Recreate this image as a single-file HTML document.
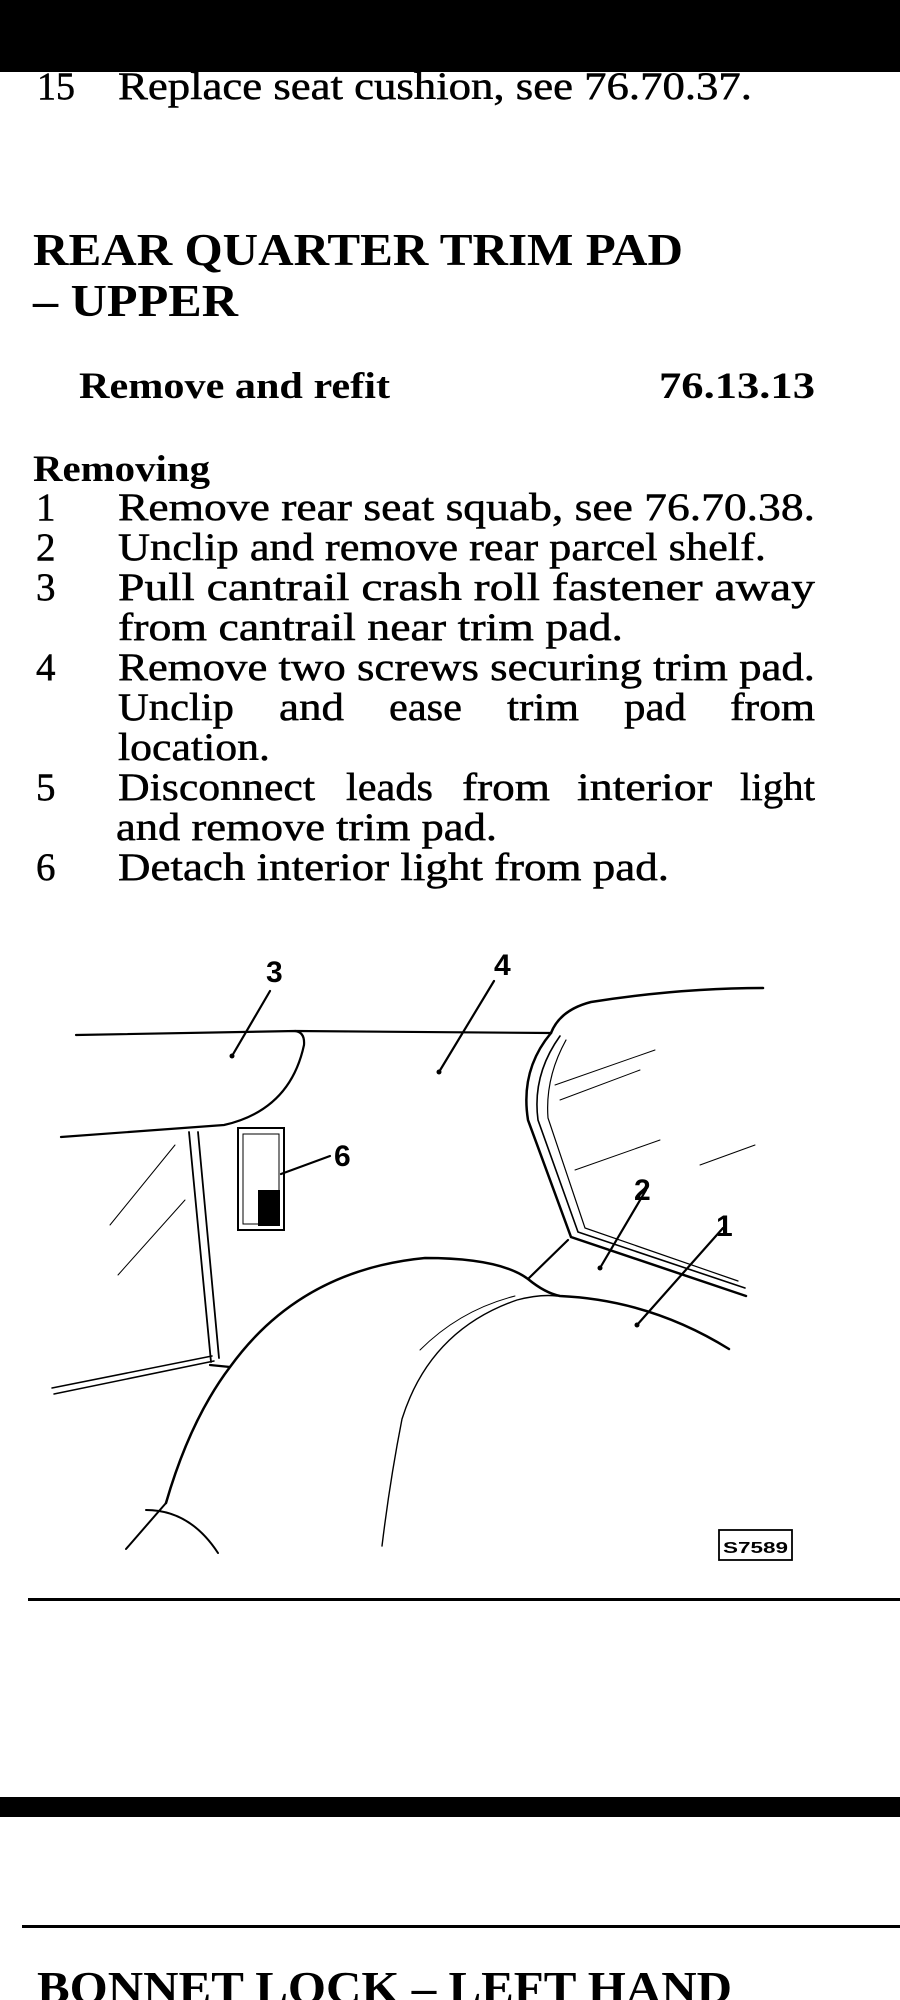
<!DOCTYPE html>
<html><head><meta charset="utf-8"><style>
html,body{margin:0;padding:0;background:#fff;}
svg{display:block;}
text{font-family:"Liberation Serif",serif;fill:#000;}
.b{font-weight:bold;}
.t text{stroke:#000;stroke-width:0.5;}
</style></head><body>
<svg width="900" height="2000" viewBox="0 0 900 2000" xmlns="http://www.w3.org/2000/svg">
<rect x="0" y="0" width="900" height="72" fill="#000"/>
<g font-size="39" class="t">
<text x="37" y="99" textLength="38" lengthAdjust="spacingAndGlyphs">15</text>
<text x="118" y="99" textLength="634" lengthAdjust="spacingAndGlyphs">Replace seat cushion, see 76.70.37.</text>
</g>
<text class="b" x="33" y="265" font-size="46" textLength="650" lengthAdjust="spacingAndGlyphs">REAR QUARTER TRIM PAD</text>
<text class="b" x="33" y="316" font-size="46" textLength="205" lengthAdjust="spacingAndGlyphs">– UPPER</text>
<text class="b" x="79" y="398" font-size="37" textLength="311" lengthAdjust="spacingAndGlyphs">Remove and refit</text>
<text class="b" x="659" y="398" font-size="37" textLength="156" lengthAdjust="spacingAndGlyphs">76.13.13</text>
<text class="b" x="33" y="481" font-size="37" textLength="177" lengthAdjust="spacingAndGlyphs">Removing</text>
<g font-size="39" class="t">
<text x="36" y="520">1</text>
<text x="118" y="520" textLength="697" lengthAdjust="spacingAndGlyphs">Remove rear seat squab, see 76.70.38.</text>
<text x="36" y="560">2</text>
<text x="118" y="560" textLength="648" lengthAdjust="spacingAndGlyphs">Unclip and remove rear parcel shelf.</text>
<text x="36" y="600">3</text>
<text x="118" y="600" textLength="697" lengthAdjust="spacingAndGlyphs">Pull cantrail crash roll fastener away</text>
<text x="118" y="640" textLength="505" lengthAdjust="spacingAndGlyphs">from cantrail near trim pad.</text>
<text x="36" y="680">4</text>
<text x="118" y="680" textLength="697" lengthAdjust="spacingAndGlyphs">Remove two screws securing trim pad.</text>
<text x="118" y="720" textLength="116" lengthAdjust="spacingAndGlyphs">Unclip</text>
<text x="279" y="720" textLength="65" lengthAdjust="spacingAndGlyphs">and</text>
<text x="389" y="720" textLength="73" lengthAdjust="spacingAndGlyphs">ease</text>
<text x="507" y="720" textLength="72" lengthAdjust="spacingAndGlyphs">trim</text>
<text x="624" y="720" textLength="62" lengthAdjust="spacingAndGlyphs">pad</text>
<text x="730" y="720" textLength="85" lengthAdjust="spacingAndGlyphs">from</text>
<text x="118" y="760" textLength="152" lengthAdjust="spacingAndGlyphs">location.</text>
<text x="36" y="800">5</text>
<text x="118" y="800" textLength="197" lengthAdjust="spacingAndGlyphs">Disconnect</text>
<text x="346" y="800" textLength="87" lengthAdjust="spacingAndGlyphs">leads</text>
<text x="462" y="800" textLength="88" lengthAdjust="spacingAndGlyphs">from</text>
<text x="577" y="800" textLength="135" lengthAdjust="spacingAndGlyphs">interior</text>
<text x="740" y="800" textLength="75" lengthAdjust="spacingAndGlyphs">light</text>
<text x="116" y="840" textLength="381" lengthAdjust="spacingAndGlyphs">and remove trim pad.</text>
<text x="36" y="880">6</text>
<text x="118" y="880" textLength="551" lengthAdjust="spacingAndGlyphs">Detach interior light from pad.</text>
</g>
<g fill="none" stroke="#000" stroke-width="2.2" stroke-linecap="round">
<path d="M76 1035 L295 1031 Q305 1032 304 1045 Q290 1110 224 1125 L61 1137"/>
<path d="M295 1031 L551 1033"/>
<path d="M189 1132 L211 1362 M198 1132 L219 1358" stroke-width="1.8"/>
<path d="M52 1388 L212 1356 M54 1394 L214 1361" stroke-width="1.5"/>
<path d="M110 1225 L175 1145 M118 1275 L185 1200" stroke-width="1" />
<rect x="238" y="1128" width="46" height="102" stroke-width="2"/>
<rect x="243" y="1134" width="36" height="90" stroke-width="1"/>
<path d="M281 1174 L330 1156"/>
<path d="M270 991 L232 1056 M494 981 L439 1072 M646 1190 L600 1268 M723 1228 L637 1325"/>
<path d="M551 1033 Q560 1010 591 1002 Q680 988 763 988" stroke-width="2.5"/>
<path d="M551 1033 Q520 1070 528 1120 L571 1237 L746 1296" stroke-width="2.5"/>
<path d="M560 1036 Q532 1075 538 1120 L578 1232 L745 1288" stroke-width="1.6"/>
<path d="M566 1040 Q545 1078 548 1118 L585 1228 L738 1281" stroke-width="1.2"/>
<path d="M555 1085 L655 1050 M560 1100 L640 1070 M575 1170 L660 1140 M700 1165 L755 1145" stroke-width="1"/>
<path d="M528 1279 L568 1240"/>
<path d="M166 1503 Q190 1420 230 1367 Q300 1270 425 1258 Q500 1258 528 1279 Q545 1293 560 1296 Q650 1300 729 1349" stroke-width="2.5"/>
<path d="M210 1365 L230 1367"/>
<path d="M382 1546 Q390 1480 402 1419 Q430 1330 517 1300 Q540 1294 557 1296" stroke-width="1.4"/>
<path d="M166 1503 L126 1549 M146 1510 Q190 1510 218 1553" stroke-width="2"/>
<path d="M420 1350 Q460 1310 515 1296" stroke-width="1"/>
<rect x="719" y="1530" width="73" height="30" stroke-width="1.8"/>
</g>
<g fill="#000">
<circle cx="232" cy="1056" r="2.5"/><circle cx="439" cy="1072" r="2.5"/>
<circle cx="600" cy="1268" r="2.5"/><circle cx="637" cy="1325" r="2.5"/>
<rect x="258" y="1190" width="22" height="36"/>
</g>
<g font-size="30">
<text x="266" y="982" style="font-family:'Liberation Sans',sans-serif;font-weight:bold">3</text>
<text x="494" y="975" style="font-family:'Liberation Sans',sans-serif;font-weight:bold">4</text>
<text x="334" y="1166" style="font-family:'Liberation Sans',sans-serif;font-weight:bold">6</text>
<text x="634" y="1200" style="font-family:'Liberation Sans',sans-serif;font-weight:bold">2</text>
<text x="716" y="1236" style="font-family:'Liberation Sans',sans-serif;font-weight:bold">1</text>
</g>
<text x="723" y="1553" font-size="16" style="font-family:'Liberation Sans',sans-serif;font-weight:bold" textLength="65" lengthAdjust="spacingAndGlyphs">S7589</text>
<rect x="28" y="1598" width="872" height="3" fill="#000"/>
<rect x="0" y="1797" width="900" height="20" fill="#000"/>
<rect x="22" y="1925" width="878" height="3" fill="#000"/>
<text class="b" x="37" y="2003" font-size="46" textLength="695" lengthAdjust="spacingAndGlyphs">BONNET LOCK – LEFT HAND</text>
</svg>
</body></html>
